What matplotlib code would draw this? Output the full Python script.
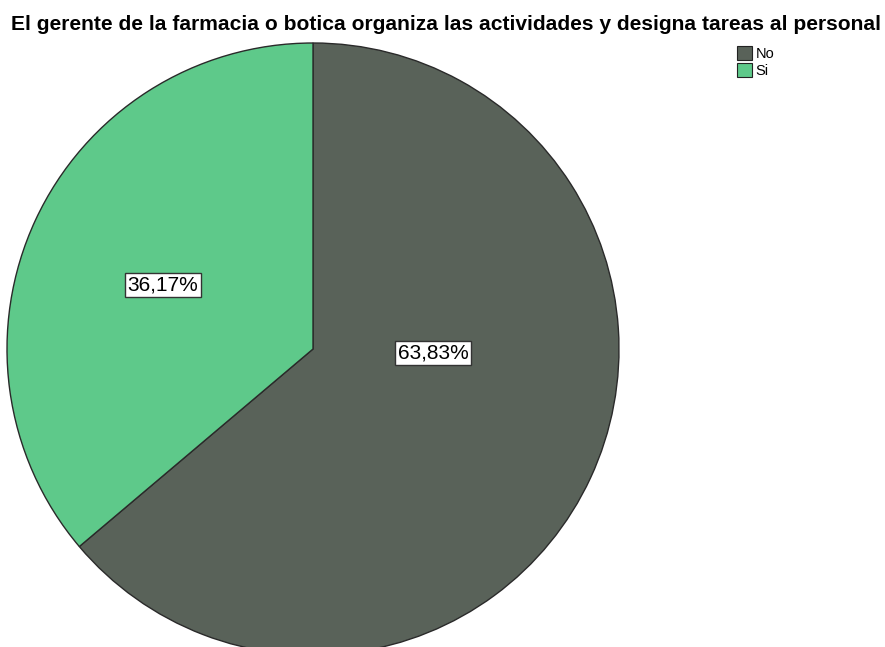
import matplotlib
matplotlib.use("Agg")
import matplotlib.pyplot as plt
from matplotlib.patches import Patch

categories = ["No", "Si"]
values = [63.83, 36.17]
labels = ["63,83%", "36,17%"]
colors = ["#596259", "#5ec98a"]
title = "El gerente de la farmacia o botica organiza las actividades y designa tareas al personal"

W, H = 885, 647
fig = plt.figure(figsize=(W / 100, H / 100), dpi=100)
ax = fig.add_axes([0, 0, 1, 1])
ax.set_xlim(0, W)
ax.set_ylim(0, H)
ax.set_aspect("equal")
ax.axis("off")

cx, cy, r = 313, H - 349, 306
wedges, _ = ax.pie(values, colors=colors, startangle=90, counterclock=False,
                   center=(cx, cy), radius=r, frame=True,
                   wedgeprops=dict(edgecolor="#2a2a2a", linewidth=1.0))
ax.set_xlim(0, W)
ax.set_ylim(0, H)
ax.axis("off")

label_pos = [(433, H - 353), (163, H - 285)]
for lab, (x, y) in zip(labels, label_pos):
    ax.text(x, y, lab, ha="center", va="center", fontsize=15,
            family="Liberation Sans", color="black",
            bbox=dict(boxstyle="square,pad=0.12", facecolor="white",
                      edgecolor="#333333", linewidth=1.0))

fig.text(446 / W, 1 - 24 / H, title, ha="center", va="center",
         fontsize=15.1, fontweight="bold", family="Liberation Sans", color="black")

handles = [Patch(facecolor=c, edgecolor="#222222", linewidth=0.8) for c in colors]
fig.legend(handles, categories, loc="upper left",
           bbox_to_anchor=(727 / W, 1 - 36 / H), frameon=False,
           prop=dict(family="Liberation Sans", size=10.5),
           handlelength=1.0, handleheight=1.1, handletextpad=0.25,
           labelspacing=0.15, borderpad=0.2)

fig.savefig("out.png", dpi=100)
